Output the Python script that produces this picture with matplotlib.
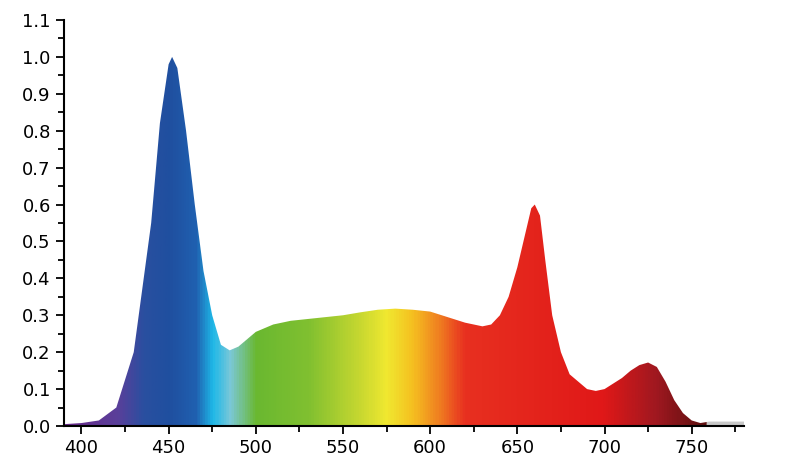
import numpy as np
import matplotlib
matplotlib.use("Agg")
import matplotlib.pyplot as plt
from matplotlib.colors import LinearSegmentedColormap
from matplotlib.ticker import MultipleLocator

wavelength = [390,400,410,420,430,440,445,450,452,455,460,465,470,475,480,485,490,495,500,510,520,530,540,550,560,570,580,590,600,610,620,630,635,640,645,650,655,658,660,663,666,670,675,680,690,695,700,705,710,715,720,725,730,735,740,745,750,755,760,770,780]
intensity = [0.005,0.008,0.015,0.05,0.2,0.55,0.82,0.98,1.0,0.97,0.8,0.6,0.42,0.3,0.22,0.205,0.215,0.235,0.255,0.275,0.285,0.29,0.295,0.3,0.308,0.315,0.318,0.315,0.31,0.295,0.28,0.27,0.275,0.3,0.35,0.43,0.53,0.59,0.6,0.57,0.45,0.3,0.2,0.14,0.1,0.095,0.1,0.115,0.13,0.15,0.165,0.172,0.16,0.12,0.07,0.035,0.015,0.008,0.012,0.012,0.012]
color_wl = [390,420,435,450,465,475,485,500,530,560,575,590,605,620,700,730,757,759,760,780]
color_hex = ['#6a2a8a','#5a3f9a','#2a4fa0','#1f4f9f','#2060b0','#1eb8e8','#7bc8d8','#6ab830','#80c030','#c8d830','#f0e830','#f5c020','#f08020','#e83020','#e01818','#a01820','#601010','#601010','#c8c8c8','#c8c8c8']

fig = plt.figure(figsize=(7.99,4.71), dpi=100)
ax = fig.add_axes([64/799, 45/471, 680/799, 406/471])
ax.set_xlim(390,780); ax.set_ylim(0,1.1)
poly = ax.fill_between(wavelength, intensity, 0, color='none', lw=0)
pos = [(w-390)/390 for w in color_wl]
cmap = LinearSegmentedColormap.from_list('spec', list(zip(pos, color_hex)))
grad = np.linspace(0,1,800).reshape(1,-1)
im = ax.imshow(grad, cmap=cmap, aspect='auto', extent=[390,780,0,1.1], origin='lower', zorder=1)
path = poly.get_paths()[0]
im.set_clip_path(path, transform=ax.transData)

for s in ['top','right']:
    ax.spines[s].set_visible(False)
ax.xaxis.set_major_locator(MultipleLocator(50))
ax.xaxis.set_minor_locator(MultipleLocator(25))
ax.yaxis.set_major_locator(MultipleLocator(0.1))
ax.yaxis.set_minor_locator(MultipleLocator(0.05))
ax.set_yticks(np.round(np.arange(0,1.11,0.1),1))
ax.set_yticklabels([f"{v:.1f}" for v in np.arange(0,1.11,0.1)])
ax.set_xticks([400,450,500,550,600,650,700,750])
ax.tick_params(which='major', direction='out', length=6, width=1.3, labelsize=13)
ax.tick_params(which='minor', direction='out', length=4, width=1.3)
for s in ['left','bottom']:
    ax.spines[s].set_linewidth(1.5)
fig.savefig('out.png', dpi=100)
